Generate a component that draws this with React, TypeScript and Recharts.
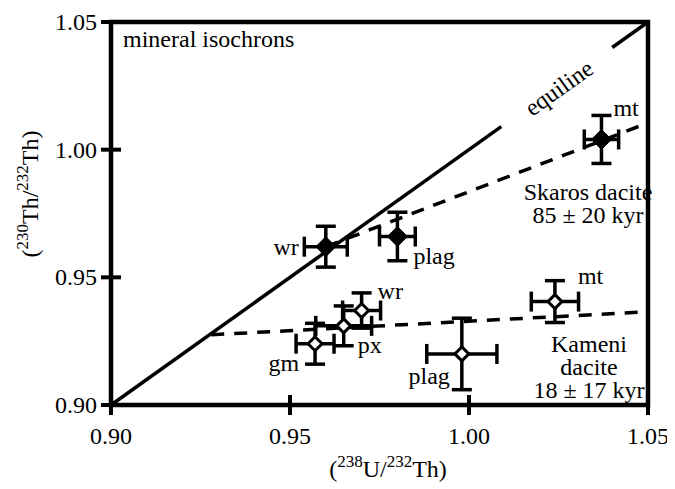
import React from "react"
import {
  ScatterChart,
  Scatter,
  XAxis,
  YAxis,
  ErrorBar,
  ReferenceLine,
  ReferenceArea,
} from "recharts"

// (238U/232Th) vs (230Th/232Th) activity ratios
const skarosPoints = [
  { name: "wr", u: 0.96, th: 0.962, uErr: 0.006, thErr: 0.008 },
  { name: "plag", u: 0.98, th: 0.966, uErr: 0.005, thErr: 0.0095 },
  { name: "mt", u: 1.037, th: 1.004, uErr: 0.0048, thErr: 0.0094 },
]

const kameniPoints = [
  { name: "gm", u: 0.957, th: 0.924, uErr: 0.0053, thErr: 0.008 },
  { name: "px", u: 0.965, th: 0.931, uErr: 0.0078, thErr: 0.0078 },
  { name: "wr", u: 0.97, th: 0.937, uErr: 0.0053, thErr: 0.0069 },
  { name: "plag", u: 0.998, th: 0.92, uErr: 0.0098, thErr: 0.014 },
  { name: "mt", u: 1.024, th: 0.9405, uErr: 0.0066, thErr: 0.0082 },
]

// line end points (x, y)
const equilineLow = [{ x: 0.9, y: 0.9 }, { x: 1.009, y: 1.009 }]
const equilineHigh = [{ x: 1.04, y: 1.04 }, { x: 1.05, y: 1.05 }]
const skarosIsochron = [{ x: 0.96, y: 0.962 }, { x: 1.05, y: 1.0105 }]
const kameniIsochron = [{ x: 0.928, y: 0.9275 }, { x: 1.05, y: 0.9365 }]

const xTicks = [0.9, 0.95, 1.0, 1.05]
const yTicks = [0.9, 0.95, 1.0, 1.05]

const FONT = "'Liberation Serif', 'Times New Roman', serif"

// where each point label sits, relative to the marker centre
const labelPlacement: Record<string, { dx: number; dy: number; anchor: string }> = {
  "skaros-wr": { dx: -27, dy: 8, anchor: "end" },
  "skaros-plag": { dx: 16, dy: 28, anchor: "start" },
  "skaros-mt": { dx: 12, dy: -23, anchor: "start" },
  "kameni-gm": { dx: -16, dy: 27, anchor: "end" },
  "kameni-px": { dx: 14, dy: 27, anchor: "start" },
  "kameni-wr": { dx: 16, dy: -12, anchor: "start" },
  "kameni-plag": { dx: -12, dy: 30, anchor: "end" },
  "kameni-mt": { dx: 23, dy: -18, anchor: "start" },
}

const diamond = (series: string, filled: boolean) => (props: any) => {
  const { cx, cy, payload } = props
  const r = filled ? 10 : 7
  const place = labelPlacement[`${series}-${payload.name}`]
  return (
    <g>
      <polygon
        points={`${cx},${cy - r} ${cx + r},${cy} ${cx},${cy + r} ${cx - r},${cy}`}
        fill={filled ? "#000" : "#fff"}
        stroke="#000"
        strokeWidth={filled ? 1 : 3}
      />
      {place && (
        <text
          x={cx + place.dx}
          y={cy + place.dy}
          textAnchor={place.anchor as any}
          fontSize={24}
          fontFamily={FONT}
          fill="#000"
        >
          {payload.name}
        </text>
      )}
    </g>
  )
}

const XTick = (props: any) => {
  const { x, y, payload } = props
  return (
    <g>
      <line x1={x} x2={x} y1={y - 10} y2={y + 10} stroke="#000" strokeWidth={4} />
      <text x={x} y={y + 39} textAnchor="middle" fontSize={24} fontFamily={FONT} fill="#000">
        {payload.value.toFixed(2)}
      </text>
    </g>
  )
}

const YTick = (props: any) => {
  const { x, y, payload } = props
  return (
    <g>
      <line x1={x - 10} x2={x + 10} y1={y} y2={y} stroke="#000" strokeWidth={4} />
      <text x={x - 14} y={y + 8} textAnchor="end" fontSize={24} fontFamily={FONT} fill="#000">
        {payload.value.toFixed(2)}
      </text>
    </g>
  )
}

export default function App() {
  return (
    <div style={{ position: "relative", width: 660, height: 475 }}>
      <ScatterChart
        width={660}
        height={475}
        margin={{ top: 14, right: 20, bottom: 28, left: 43 }}
      >
        <XAxis
          type="number"
          dataKey="u"
          domain={[0.9, 1.05]}
          ticks={xTicks}
          interval={0}
          allowDataOverflow
          axisLine={false}
          tickLine={false}
          tickSize={0}
          tickMargin={0}
          height={50}
          tick={XTick}
        />
        <YAxis
          type="number"
          dataKey="th"
          domain={[0.9, 1.05]}
          ticks={yTicks}
          interval={0}
          allowDataOverflow
          axisLine={false}
          tickLine={false}
          tickSize={0}
          tickMargin={0}
          width={60}
          tick={YTick}
        />

        <ReferenceArea
          x1={0.9}
          x2={1.05}
          y1={0.9}
          y2={1.05}
          fill="none"
          stroke="#000"
          strokeWidth={4.5}
          ifOverflow="visible"
        />

        {/* equiline, broken for its label */}
        <ReferenceLine segment={equilineLow} stroke="#000" strokeWidth={3.5} ifOverflow="visible" />
        <ReferenceLine segment={equilineHigh} stroke="#000" strokeWidth={3.5} ifOverflow="visible" />

        {/* isochrons */}
        <ReferenceLine
          segment={skarosIsochron}
          stroke="#000"
          strokeWidth={3.5}
          strokeDasharray="13 10"
          ifOverflow="visible"
        />
        <ReferenceLine
          segment={kameniIsochron}
          stroke="#000"
          strokeWidth={3.5}
          strokeDasharray="13 10"
          ifOverflow="visible"
        />

        <Scatter data={skarosPoints} shape={diamond("skaros", true)} isAnimationActive={false}>
          <ErrorBar dataKey="uErr" direction="x" width={10} stroke="#000" strokeWidth={3.5} />
          <ErrorBar dataKey="thErr" direction="y" width={10} stroke="#000" strokeWidth={3.5} />
        </Scatter>

        <Scatter data={kameniPoints} shape={diamond("kameni", false)} isAnimationActive={false}>
          <ErrorBar dataKey="uErr" direction="x" width={10} stroke="#000" strokeWidth={3.5} />
          <ErrorBar dataKey="thErr" direction="y" width={10} stroke="#000" strokeWidth={3.5} />
        </Scatter>
      </ScatterChart>

      <svg
        width={660}
        height={475}
        style={{ position: "absolute", left: 0, top: 0, pointerEvents: "none" }}
        fontFamily={FONT}
        fontSize={24}
        fill="#000"
      >
        <text x={115} y={39}>mineral isochrons</text>

        <text x={551} y={80} dy={8} textAnchor="middle" transform="rotate(-35.5 551 80)">
          equiline
        </text>

        <text x={580} y={192} textAnchor="middle">Skaros dacite</text>
        <text x={580} y={215} textAnchor="middle">85 ± 20 kyr</text>

        <text x={581} y={344} textAnchor="middle">Kameni</text>
        <text x={581} y={367} textAnchor="middle">dacite</text>
        <text x={581} y={390} textAnchor="middle">18 ± 17 kyr</text>

        <text x={380} y={469} textAnchor="middle">
          (<tspan fontSize={17} dy={-10}>238</tspan>
          <tspan dy={10}>U/</tspan>
          <tspan fontSize={17} dy={-10}>232</tspan>
          <tspan dy={10}>Th)</tspan>
        </text>

        <text x={30} y={186} textAnchor="middle" transform="rotate(-90 30 186)">
          (<tspan fontSize={17} dy={-10}>230</tspan>
          <tspan dy={10}>Th/</tspan>
          <tspan fontSize={17} dy={-10}>232</tspan>
          <tspan dy={10}>Th)</tspan>
        </text>
      </svg>
    </div>
  )
}
